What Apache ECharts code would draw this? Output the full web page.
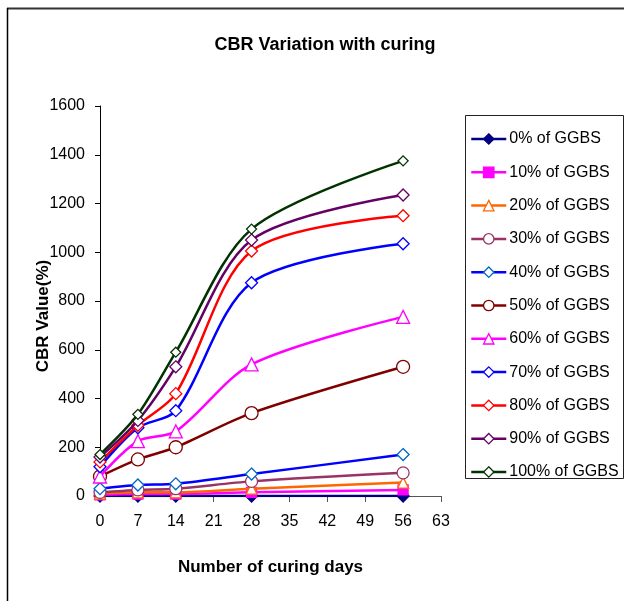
<!DOCTYPE html>
<html>
<head>
<meta charset="utf-8">
<script src="https://cdn.jsdelivr.net/npm/echarts@6/dist/echarts.min.js"></script>
<style>
html,body{margin:0;padding:0;background:#fff;}
#c{width:625px;height:601px;}
</style>
</head>
<body>
<div id="c"></div>
<script>
const days = [0, 7, 14, 28, 56];
const xTicks = [0, 7, 14, 21, 28, 35, 42, 49, 56, 63];
const yTicks = [0, 200, 400, 600, 800, 1000, 1200, 1400, 1600];
const seriesNames = ['0% of GGBS','10% of GGBS','20% of GGBS','30% of GGBS','40% of GGBS','50% of GGBS','60% of GGBS','70% of GGBS','80% of GGBS','90% of GGBS','100% of GGBS'];
const g0   = [0, 0, 0, 0, 0];
const g10  = [5, 8, 8, 15, 25];
const g20  = [10, 15, 15, 30, 55];
const g30  = [15, 25, 30, 60, 95];
const g40  = [30, 45, 50, 90, 170];
const g50  = [80, 150, 200, 340, 530];
const g60  = [80, 225, 265, 540, 735];
const g70  = [120, 280, 350, 875, 1035];
const g80  = [140, 290, 420, 1005, 1150];
const g90  = [160, 310, 530, 1050, 1235];
const g100 = [170, 335, 590, 1095, 1375];
const allValues = [g0, g10, g20, g30, g40, g50, g60, g70, g80, g90, g100];

const styles = [
  {line:'#000080', mark:'#000080', symbol:'diamond', fill:true, size:12},
  {line:'#FF00FF', mark:'#FF00FF', symbol:'rect', fill:true, size:10},
  {line:'#FF6600', mark:'#FF6600', symbol:'triangle', fill:false, size:11},
  {line:'#993366', mark:'#993366', symbol:'circle', fill:false, size:12},
  {line:'#0000FF', mark:'#0066CC', symbol:'diamond', fill:false, size:12},
  {line:'#800000', mark:'#800000', symbol:'circle', fill:false, size:13},
  {line:'#FF00FF', mark:'#FF00FF', symbol:'triangle', fill:false, size:13},
  {line:'#0000FF', mark:'#0000FF', symbol:'diamond', fill:false, size:12},
  {line:'#FF0000', mark:'#FF0000', symbol:'diamond', fill:false, size:12},
  {line:'#660066', mark:'#660066', symbol:'diamond', fill:false, size:12},
  {line:'#003300', mark:'#003300', symbol:'diamond', fill:false, size:10}
];

const series = seriesNames.map((n, i) => {
  const s = styles[i];
  return {
    name: n,
    type: 'line',
    smooth: 0.3,
    data: days.map((d, j) => [d, allValues[i][j]]),
    symbol: s.symbol,
    symbolSize: s.size,
    showAllSymbol: true,
    lineStyle: {color: s.line, width: 2.5},
    itemStyle: {color: s.fill ? s.mark : '#fff', borderColor: s.mark, borderWidth: 1.3},
    z: 2 + i
  };
});

const chart = echarts.init(document.getElementById('c'), null, {renderer:'canvas'});
const font = 'Liberation Sans, Arial, sans-serif';
chart.setOption({
  animation: false,
  backgroundColor: '#fff',
  title: {
    text: 'CBR Variation with curing',
    left: 320, top: 31, textAlign: 'center',
    textStyle: {fontFamily: font, fontSize: 18, fontWeight: 'bold', color: '#000'}
  },
  legend: {
    data: seriesNames.map((n,i)=>({name:n, itemStyle:{color: styles[i].fill ? styles[i].mark : '#fff', borderColor: styles[i].mark, borderWidth:1.3}, lineStyle:{color: styles[i].line, width:2.5}})),
    orient: 'vertical',
    left: 465, top: 121,
    padding: [10, 4, 10, 5],
    itemWidth: 35, itemHeight: 13, itemGap: 17.3,
    textStyle: {fontFamily: font, fontSize: 16, color: '#000', padding:[0,0,0,-2]}
  },
  grid: {left: 100, top: 106, width: 341, height: 390},
  xAxis: {
    type: 'value', min: 0, max: 63, interval: 7,
    name: 'Number of curing days', nameLocation: 'middle', nameGap: 63, nameMoveOverlap: false,
    nameTextStyle: {fontFamily: font, fontSize: 17, fontWeight: 'bold', color: '#000'},
    axisLine: {show: true, lineStyle: {color: '#555', width: 1}},
    axisTick: {show: true, length: 6, lineStyle: {color: '#555'}},
    axisLabel: {fontFamily: font, fontSize: 16, color: '#000', margin: 18, formatter: v => xTicks.includes(v) ? String(v) : ''},
    splitLine: {show: false}
  },
  yAxis: {
    type: 'value', min: 0, max: 1600, interval: 200,
    name: 'CBR Value(%)', nameLocation: 'middle', nameGap: 48, nameRotate: 90, nameMoveOverlap: false,
    nameTextStyle: {fontFamily: font, fontSize: 17, fontWeight: 'bold', color: '#000', padding:[0, 30, 0, 0]},
    axisLine: {show: true, lineStyle: {color: '#000', width: 1}},
    axisTick: {show: true, length: 5, lineStyle: {color: '#000'}},
    axisLabel: {fontFamily: font, fontSize: 16, color: '#000', margin: 15, formatter: v => yTicks.includes(v) ? String(v) : ''},
    splitLine: {show: false}
  },
  graphic: [
    {type:'line', shape:{x1:7, y1:8.5, x2:624, y2:8.5}, style:{stroke:'#333', lineWidth:2}},
    {type:'line', shape:{x1:7.5, y1:8, x2:7.5, y2:601}, style:{stroke:'#000', lineWidth:1.5}},
    {type:'rect', shape:{x:465.5, y:115.5, width:158, height:363}, style:{fill:'none', stroke:'#222', lineWidth:1}}
  ],
  series: series
});
</script>
</body>
</html>
